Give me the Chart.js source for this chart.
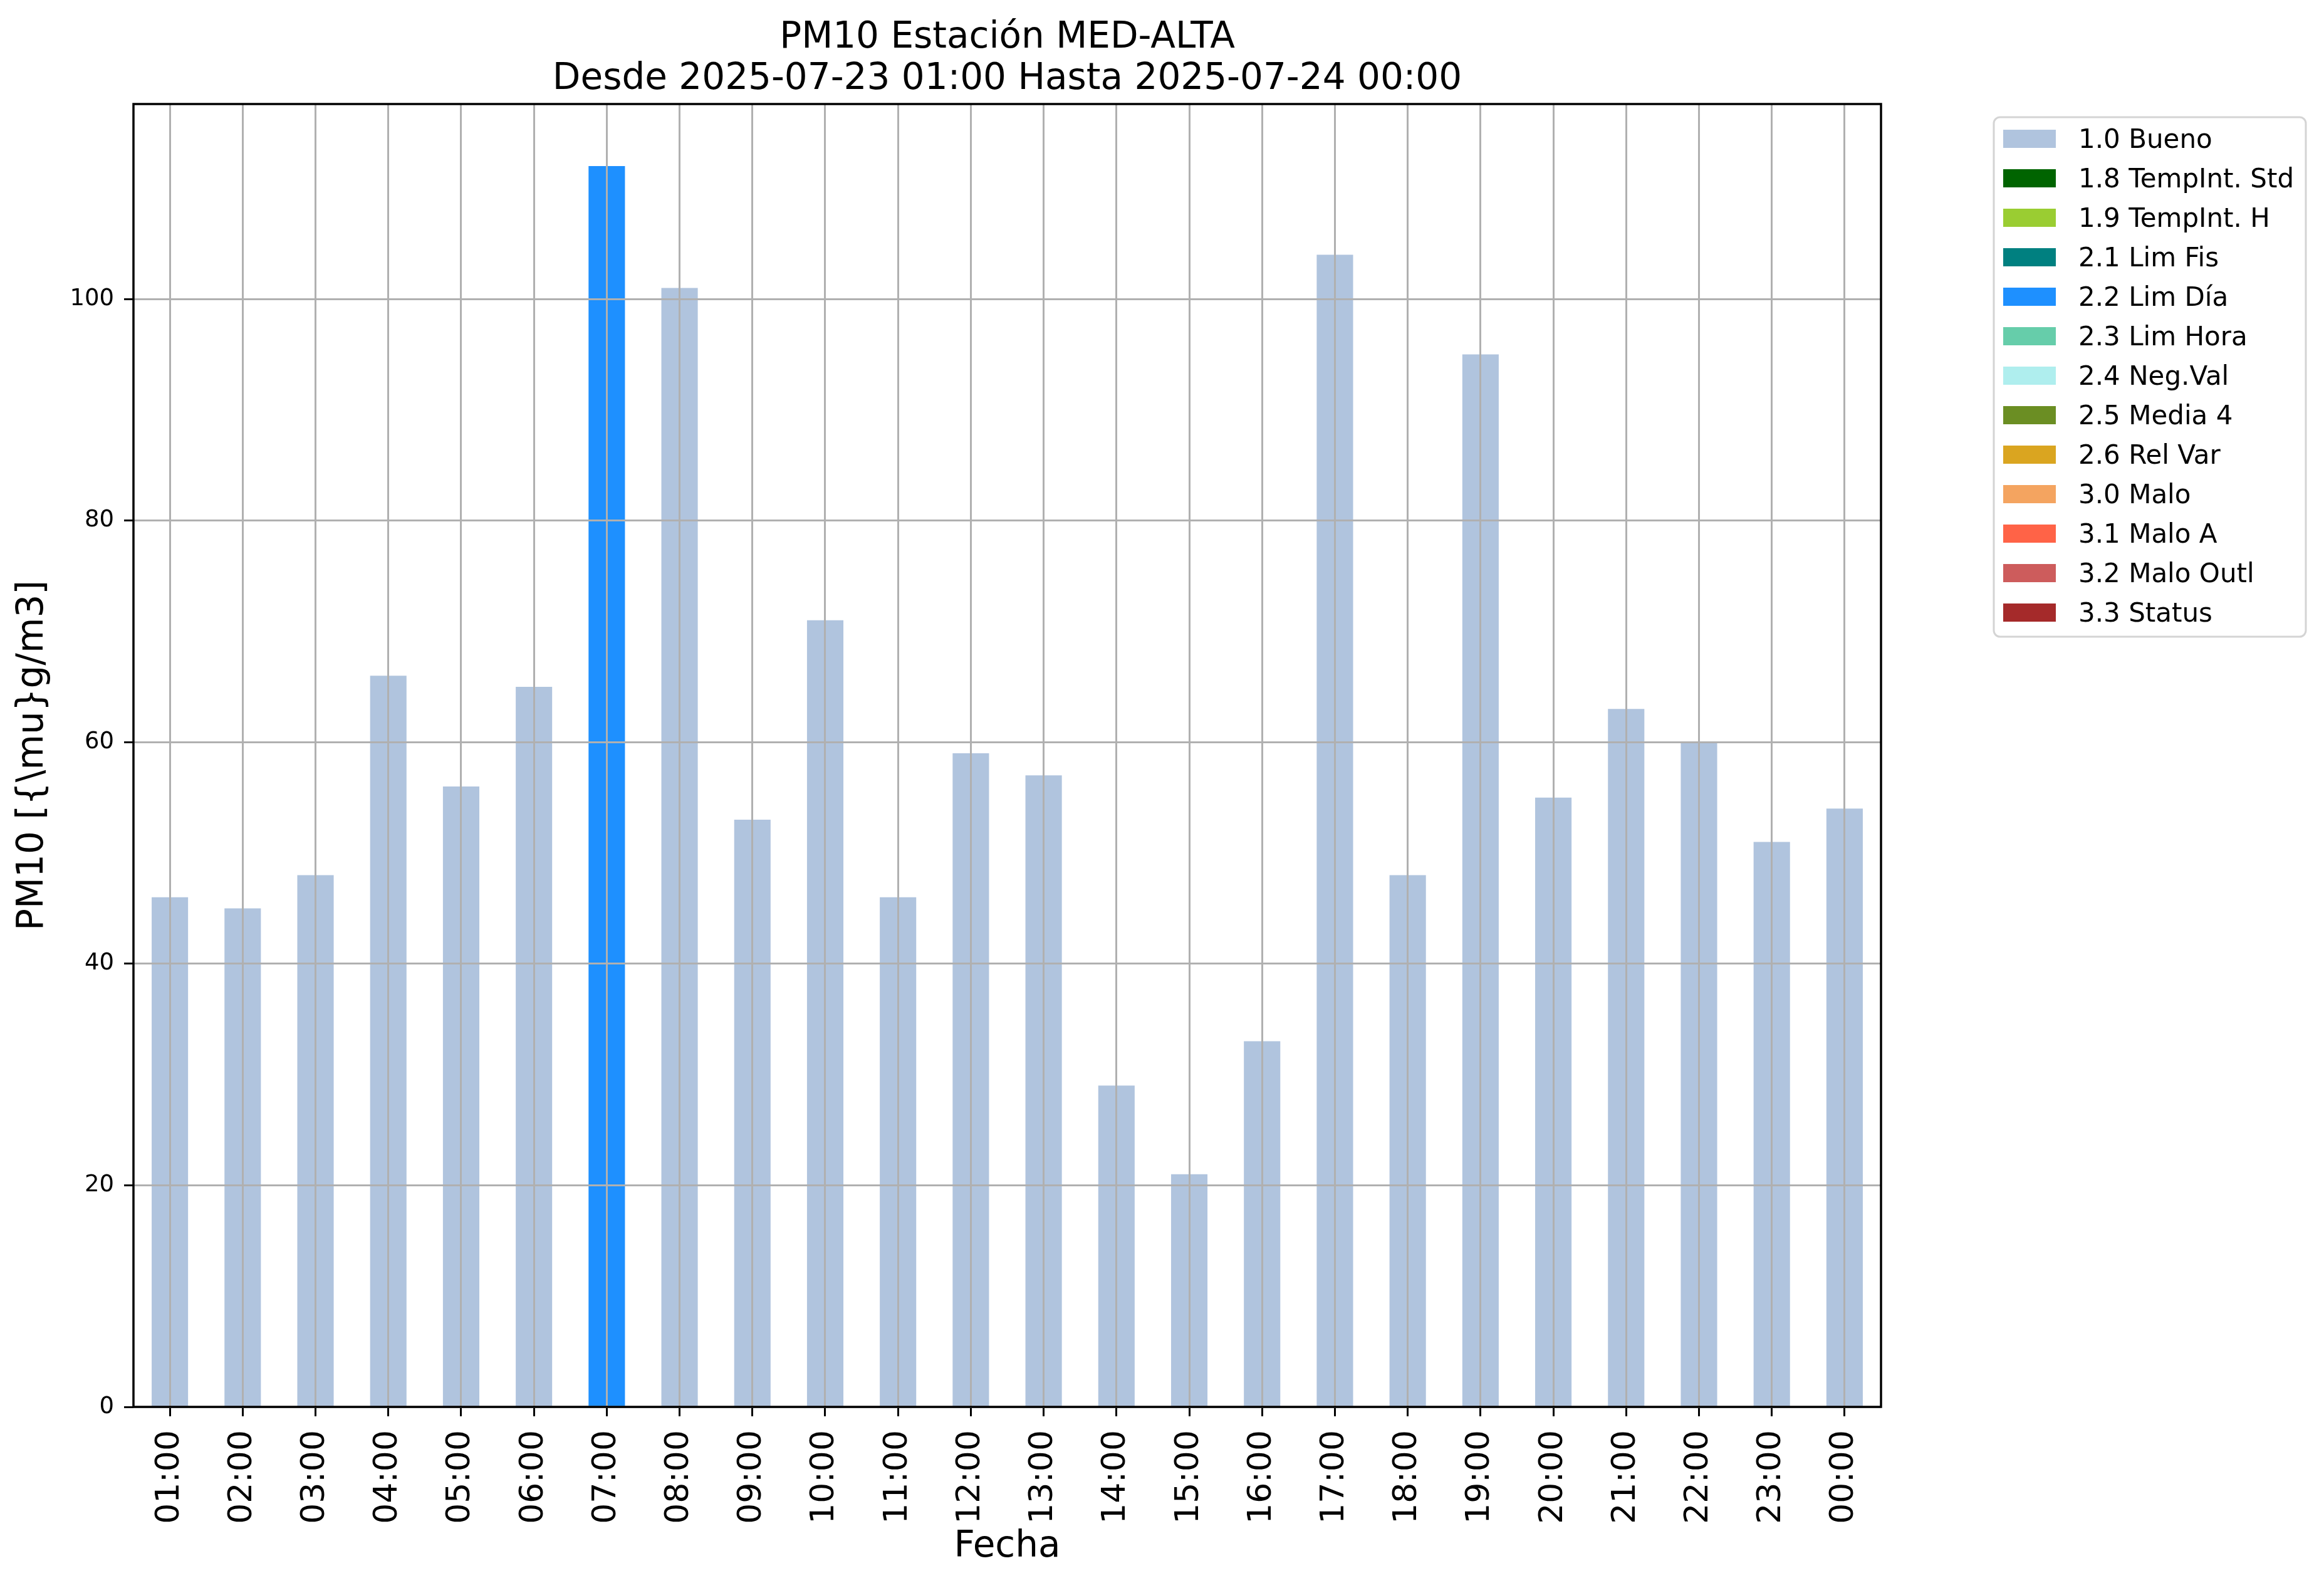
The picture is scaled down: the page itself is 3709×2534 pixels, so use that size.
<!DOCTYPE html>
<html>
<head>
<meta charset="utf-8">
<script src="https://cdn.jsdelivr.net/npm/chart.js@4.4.1/dist/chart.umd.min.js"></script>
<style>
html, body { margin: 0; padding: 0; background: #ffffff; }
canvas { display: block; }
</style>
</head>
<body>
<canvas id="pm10Chart" width="3709" height="2534"></canvas>
<script>
const hours = ['01:00', '02:00', '03:00', '04:00', '05:00', '06:00', '07:00', '08:00',
    '09:00', '10:00', '11:00', '12:00', '13:00', '14:00', '15:00', '16:00',
    '17:00', '18:00', '19:00', '20:00', '21:00', '22:00', '23:00', '00:00'];
const pm10_values = [46, 45, 48, 66, 56, 65, 112, 101, 53, 71, 46, 59,
    57, 29, 21, 33, 104, 48, 95, 55, 63, 60, 51, 54];
const pm10_flags = ['1.0', '1.0', '1.0', '1.0', '1.0', '1.0', '2.2', '1.0', '1.0', '1.0', '1.0', '1.0',
    '1.0', '1.0', '1.0', '1.0', '1.0', '1.0', '1.0', '1.0', '1.0', '1.0', '1.0', '1.0'];

const flag_codes = ['1.0', '1.8', '1.9', '2.1', '2.2', '2.3', '2.4', '2.5', '2.6', '3.0', '3.1', '3.2', '3.3'];
const flag_labels = ['1.0 Bueno', '1.8 TempInt. Std', '1.9 TempInt. H', '2.1 Lim Fis', '2.2 Lim Día',
    '2.3 Lim Hora', '2.4 Neg.Val', '2.5 Media 4', '2.6 Rel Var', '3.0 Malo', '3.1 Malo A',
    '3.2 Malo Outl', '3.3 Status'];
const flag_colors = ['#b0c4de', '#006400', '#9acd32', '#008080', '#1e90ff', '#66cdaa', '#afeeee',
    '#6b8e23', '#daa520', '#f4a460', '#ff6347', '#cd5c5c', '#a52a2a'];

const y_ticks = [0, 20, 40, 60, 80, 100];
const y_max = 117.6;

const title_lines = ['PM10 Estación MED-ALTA', 'Desde 2025-07-23 01:00 Hasta 2025-07-24 00:00'];

Chart.defaults.font.family = "'DejaVu Sans', sans-serif";
Chart.defaults.color = '#000000';

// titulo centrado sobre el area de la grafica
const titlePlugin = {
    id: 'titlePlugin',
    afterDraw(chart) {
        const ctx = chart.ctx;
        const area = chart.chartArea;
        const cx = (area.left + area.right) / 2;
        ctx.save();
        ctx.fillStyle = '#000000';
        ctx.font = "58px 'DejaVu Sans'";
        ctx.textAlign = 'center';
        ctx.textBaseline = 'alphabetic';
        ctx.fillText(title_lines[0], cx, 76);
        ctx.fillText(title_lines[1], cx, 142);
        ctx.restore();
    }
};

// marco completo de los ejes
const framePlugin = {
    id: 'framePlugin',
    afterDraw(chart) {
        const ctx = chart.ctx;
        const a = chart.chartArea;
        ctx.save();
        ctx.strokeStyle = '#000000';
        ctx.lineWidth = 3.5;
        ctx.strokeRect(a.left, a.top, a.right - a.left, a.bottom - a.top);
        ctx.restore();
    }
};

// leyenda fuera de la grafica, arriba a la derecha
const legendPlugin = {
    id: 'legendPlugin',
    afterDraw(chart) {
        const ctx = chart.ctx;
        const datasets = chart.data.datasets;
        const x0 = 3182, y0 = 187, w = 498, h = 829;
        ctx.save();
        ctx.beginPath();
        ctx.roundRect(x0, y0, w, h, 10);
        ctx.fillStyle = 'rgba(255,255,255,0.8)';
        ctx.fill();
        ctx.strokeStyle = '#d4d4d4';
        ctx.lineWidth = 3;
        ctx.stroke();

        ctx.font = "42px 'DejaVu Sans'";
        ctx.textAlign = 'left';
        ctx.textBaseline = 'alphabetic';
        datasets.forEach((ds, i) => {
            const cy = 221.5 + i * 63;
            ctx.fillStyle = ds.backgroundColor;
            ctx.fillRect(3197, cy - 14.5, 84, 29);
            ctx.fillStyle = '#000000';
            ctx.fillText(ds.label, 3317, cy + 14.5);
        });
        ctx.restore();
    }
};

const datasets = flag_codes.map((code, i) => ({
    label: flag_labels[i],
    data: pm10_values.map((v, j) => pm10_flags[j] === code ? v : null),
    backgroundColor: flag_colors[i],
    borderWidth: 0,
    barPercentage: 0.5,
    categoryPercentage: 1.0
}));

const ctx = document.getElementById('pm10Chart').getContext('2d');
window.pm10Chart = new Chart(ctx, {
    type: 'bar',
    data: {
        labels: hours,
        datasets: datasets
    },
    options: {
        responsive: false,
        animation: false,
        devicePixelRatio: 1,
        layout: {
            padding: { left: 0, top: 166, right: 707, bottom: 0 }
        },
        plugins: {
            legend: { display: false },
            title: { display: false },
            tooltip: { enabled: false }
        },
        scales: {
            x: {
                stacked: true,
                offset: true,
                afterFit: (scale) => { scale.height = 289; },
                grid: {
                    z: 1,
                    offset: false,
                    color: '#b0b0b0',
                    lineWidth: 3,
                    tickColor: '#000000',
                    tickWidth: 3,
                    tickLength: 15
                },
                border: { display: false },
                ticks: {
                    autoSkip: false,
                    minRotation: 90,
                    maxRotation: 90,
                    padding: 22,
                    color: '#000000',
                    font: { size: 52 }
                },
                title: {
                    display: true,
                    text: 'Fecha',
                    color: '#000000',
                    font: { size: 58 },
                    padding: { top: 0, bottom: 30 }
                }
            },
            y: {
                stacked: true,
                min: 0,
                max: y_max,
                afterFit: (scale) => { scale.width = 213; },
                afterBuildTicks: (scale) => {
                    scale.ticks = y_ticks.map(v => ({ value: v }));
                },
                grid: {
                    z: 1,
                    color: '#b0b0b0',
                    lineWidth: 3,
                    tickColor: '#000000',
                    tickWidth: 3,
                    tickLength: 15
                },
                border: { display: false },
                ticks: {
                    padding: 16,
                    color: '#000000',
                    font: { size: 37 }
                },
                title: {
                    display: true,
                    text: 'PM10 [{\\mu}g/m3]',
                    color: '#000000',
                    font: { size: 58 },
                    padding: { top: 18, bottom: 0 }
                }
            }
        }
    },
    plugins: [titlePlugin, framePlugin, legendPlugin]
});
</script>
</body>
</html>
